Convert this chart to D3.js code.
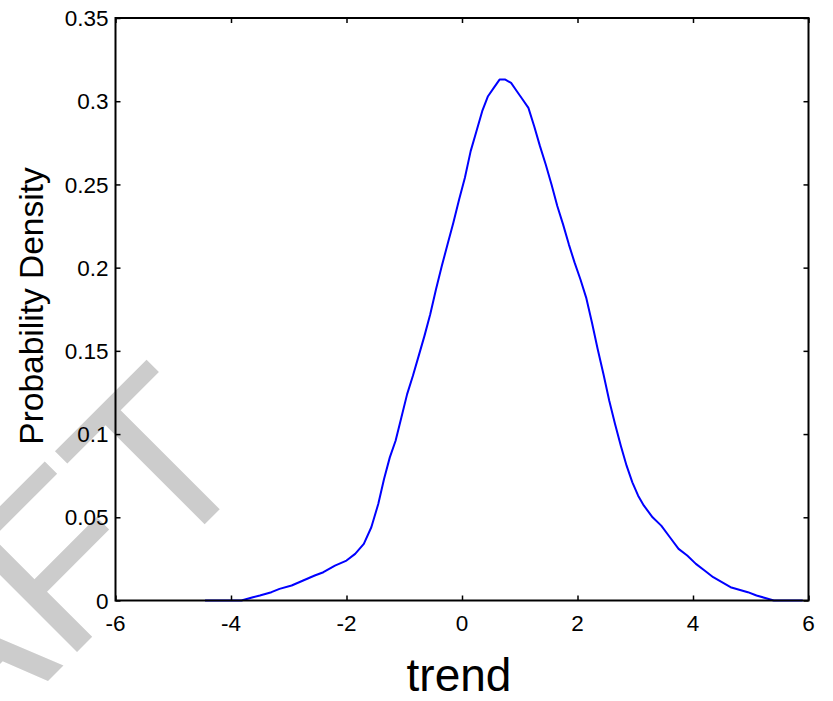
<!DOCTYPE html>
<html>
<head>
<meta charset="utf-8">
<script src="https://cdn.jsdelivr.net/npm/d3@7"></script>
<style>
  html, body { margin: 0; padding: 0; background: #fff; }
  svg { display: block; }
  text { font-family: Arial, "Liberation Sans", Helvetica, sans-serif; }
</style>
</head>
<body>
<svg id="chart" width="833" height="701"></svg>
<script>
// Kernel density estimate of the trend, sampled along x
const trendX = [-4.45, -4.0, -3.82, -3.62, -3.5, -3.3, -3.16, -2.95, -2.75, -2.55, -2.4, -2.2, -2.0,
  -1.85, -1.7, -1.57, -1.45, -1.35, -1.25, -1.15, -1.05, -0.95, -0.85, -0.75, -0.65, -0.55,
  -0.45, -0.35, -0.25, -0.15, -0.05, 0.05, 0.15, 0.25, 0.35, 0.45, 0.55, 0.65, 0.75, 0.85,
  0.95, 1.05, 1.15, 1.25, 1.35, 1.45, 1.55, 1.65, 1.75, 1.85, 1.95, 2.05, 2.15, 2.25, 2.35,
  2.45, 2.55, 2.65, 2.75, 2.85, 2.95, 3.05, 3.15, 3.3, 3.45, 3.6, 3.75, 3.9, 4.05, 4.2, 4.35,
  4.5, 4.65, 4.8, 4.95, 5.1, 5.25, 5.4, 5.9];
const density = [0.000, 0.000, 0.000, 0.002, 0.003, 0.005, 0.007, 0.009, 0.012, 0.015, 0.017, 0.021, 0.024,
  0.028, 0.034, 0.044, 0.058, 0.073, 0.086, 0.096, 0.110, 0.124, 0.135, 0.147, 0.159, 0.172,
  0.187, 0.201, 0.214, 0.227, 0.241, 0.254, 0.270, 0.282, 0.294, 0.303, 0.308, 0.313, 0.313, 0.311,
  0.306, 0.301, 0.296, 0.285, 0.273, 0.262, 0.250, 0.237, 0.226, 0.214, 0.203, 0.193, 0.182, 0.167, 0.151,
  0.136, 0.120, 0.106, 0.093, 0.081, 0.071, 0.063, 0.057, 0.050, 0.045, 0.038, 0.031, 0.027, 0.022, 0.018, 0.014,
  0.011, 0.008, 0.0065, 0.005, 0.003, 0.0015, 0.000, 0.000];

const xTicks = [-6, -4, -2, 0, 2, 4, 6];
const xTickLabels = ["-6", "-4", "-2", "0", "2", "4", "6"];
const yTicks = [0, 0.05, 0.1, 0.15, 0.2, 0.25, 0.3, 0.35];
const yTickLabels = ["0", "0.05", "0.1", "0.15", "0.2", "0.25", "0.3", "0.35"];

const xLabel = "trend";
const yLabel = "Probability Density";
const watermark = "DRAFT";

const svg = d3.select("#chart");
const plotL = 115.5, plotR = 808.5, plotT = 18, plotB = 600.5;

const x = d3.scaleLinear().domain([-6, 6]).range([plotL, plotR]);
const y = d3.scaleLinear().domain([0, 0.35]).range([plotB, plotT]);

// Watermark behind the axes
svg.append("text")
  .attr("transform", "translate(261.6,467.4) rotate(-45)")
  .attr("text-anchor", "end")
  .attr("font-size", 229)
  .attr("fill", "#cccccc")
  .text(watermark);

// Density curve
const pts = trendX.map((d, i) => [d, density[i]]);
svg.append("path")
  .datum(pts)
  .attr("fill", "none")
  .attr("stroke", "#0000ff")
  .attr("stroke-width", 2)
  .attr("stroke-linejoin", "round")
  .attr("d", d3.line().x(d => x(d[0])).y(d => y(d[1])));

// Inward ticks on all four sides
const tickLen = 5;
function styleAxis(g) {
  g.select(".domain").remove();
  g.selectAll(".tick line").attr("stroke", "#000").attr("stroke-width", 1.5);
}
svg.append("g").attr("transform", `translate(0,${plotB})`)
  .call(d3.axisBottom(x).tickValues(xTicks).tickSize(-tickLen).tickFormat(""))
  .call(styleAxis);
svg.append("g").attr("transform", `translate(0,${plotT})`)
  .call(d3.axisTop(x).tickValues(xTicks).tickSize(-tickLen).tickFormat(""))
  .call(styleAxis);
svg.append("g").attr("transform", `translate(${plotL},0)`)
  .call(d3.axisLeft(y).tickValues(yTicks).tickSize(-tickLen).tickFormat(""))
  .call(styleAxis);
svg.append("g").attr("transform", `translate(${plotR},0)`)
  .call(d3.axisRight(y).tickValues(yTicks).tickSize(-tickLen).tickFormat(""))
  .call(styleAxis);

// Plot frame
svg.append("rect")
  .attr("x", plotL).attr("y", plotT)
  .attr("width", plotR - plotL).attr("height", plotB - plotT)
  .attr("fill", "none").attr("stroke", "#000").attr("stroke-width", 2);

// Tick labels
svg.append("g").selectAll("text").data(xTicks).join("text")
  .attr("x", d => x(d))
  .attr("y", 631)
  .attr("text-anchor", "middle")
  .attr("font-size", 22.5)
  .attr("fill", "#000")
  .text((d, i) => xTickLabels[i]);

svg.append("g").selectAll("text").data(yTicks).join("text")
  .attr("x", plotL - 7)
  .attr("y", d => y(d))
  .attr("dy", "0.36em")
  .attr("text-anchor", "end")
  .attr("font-size", 22.5)
  .attr("fill", "#000")
  .text((d, i) => yTickLabels[i]);

// Axis titles
svg.append("text")
  .attr("x", 459)
  .attr("y", 691)
  .attr("text-anchor", "middle")
  .attr("font-size", 46)
  .attr("fill", "#000")
  .text(xLabel);

svg.append("text")
  .attr("transform", "translate(42.5,306) rotate(-90)")
  .attr("text-anchor", "middle")
  .attr("font-size", 33.5)
  .attr("fill", "#000")
  .text(yLabel);
</script>
</body>
</html>
